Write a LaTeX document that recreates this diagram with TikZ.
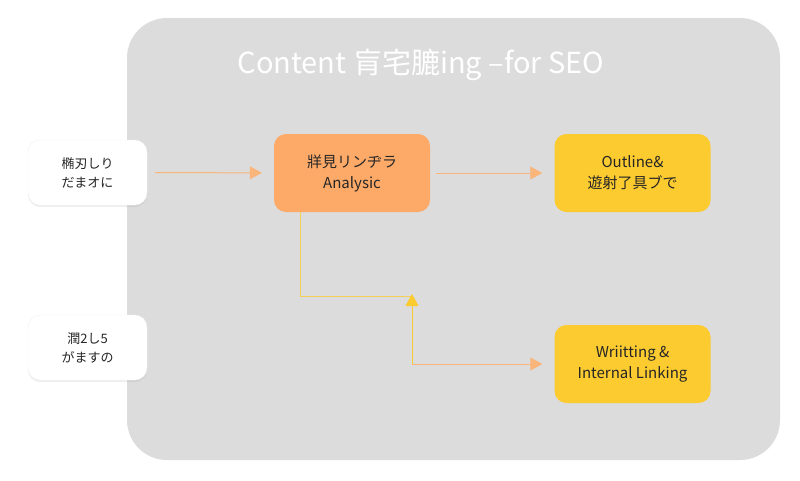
\documentclass[tikz,border=0pt]{standalone}
\usepackage{fontspec}
\setmainfont{Noto Sans CJK JP}
\usetikzlibrary{arrows.meta,shadows}
\definecolor{panel}{HTML}{DCDCDC}
\definecolor{orng}{HTML}{FDAA68}
\definecolor{yel}{HTML}{FCCB2F}
\definecolor{lorng}{HTML}{F9B57A}
\definecolor{lyel}{HTML}{F3CF55}
\begin{document}
\begin{tikzpicture}[x=1pt,y=-1pt,
  box/.style={rounded corners=12pt,minimum width=#1,align=center,inner sep=0pt,font=\fontsize{15}{21}\selectfont,text=black!85},
  wbox/.style={box=119pt,fill=white,minimum height=65pt,font=\fontsize{13}{19}\selectfont,draw=black!6,drop shadow={shadow xshift=0pt,shadow yshift=-2pt,opacity=0.12}},
  cbox/.style={box=156pt,minimum height=78pt},
  conn/.style={line width=1pt,-{Triangle[length=12pt,width=13pt]}}]
\useasboundingbox (0,0) rectangle (800,480);
\fill[white] (0,0) rectangle (800,480);
\fill[panel,rounded corners=40pt] (127,18) rectangle (780,460);
\node[text=white,font=\fontsize{29}{32}\selectfont] (title) at (421,65) {Content 肓宅膔ing –for SEO};
\node[wbox] (l1) at (87.5,172.5) {椭刃しり\\だまオに};
\node[wbox] (l2) at (87.5,347.5) {潤2し5\\がますの};
\node[cbox,fill=orng] (an) at (352,173) {牂見リンヂラ\\Analysic};
\node[cbox,fill=yel] (ou) at (632.5,173) {Outline\&\\遊射了具ブで};
\node[cbox,fill=yel] (wr) at (632.5,364) {Wriitting \&\\Internal Linking};
\coordinate (j) at (412,296);
\coordinate (k) at (412,364);
\draw[conn,lorng,shorten <=8pt,shorten >=12pt] (l1) -- (an);
\draw[conn,lorng,shorten <=6pt,shorten >=12pt] (an) -- (ou);
\draw[line width=1pt,lyel] (300,212) |- (j);
\draw[conn,yel] (k) -- ([yshift=2pt]j);
\draw[conn,lorng,shorten >=12pt] (k) -- (wr.west);
\end{tikzpicture}
\end{document}
